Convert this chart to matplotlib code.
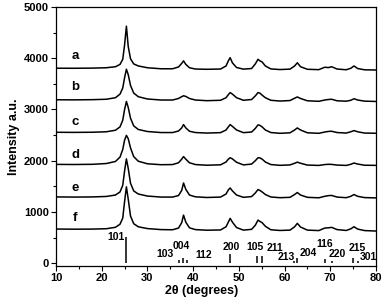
import matplotlib
matplotlib.use("Agg")
import matplotlib.pyplot as plt
from matplotlib.ticker import MultipleLocator

plt.rcParams['font.family'] = ['Liberation Sans', 'DejaVu Sans']
plt.rcParams['font.weight'] = 'bold'

two_theta = [10, 14, 18, 21, 23, 24, 24.6, 25.0, 25.4, 25.8, 26.3, 27.0, 28.0, 30,
             33, 35.5, 36.8, 37.5, 37.9, 38.4, 39.2, 40.5, 43, 46, 47.2, 47.7, 48.1,
             48.6, 49.5, 51, 52.8, 53.6, 54.2, 54.6, 55.1, 55.8, 57, 59, 61.2, 62.2,
             62.8, 63.5, 65, 67.5, 68.8, 69.6, 70.3, 71.5, 73.5, 74.5, 75.2, 76, 77.5, 80]

pattern_a = [3806, 3805, 3808, 3815, 3835, 3880, 3980, 4260, 4627, 4230, 3990, 3890, 3850, 3815,
             3795, 3795, 3830, 3900, 3950, 3880, 3815, 3790, 3785, 3790, 3850, 3950, 4012,
             3910, 3820, 3788, 3800, 3890, 3980, 3950, 3928, 3850, 3792, 3780, 3788, 3850,
             3912, 3835, 3785, 3778, 3825, 3818, 3835, 3790, 3776, 3805, 3850, 3800, 3775, 3771]
pattern_b = [3190, 3188, 3192, 3200, 3230, 3300, 3420, 3620, 3786, 3680, 3470, 3320, 3250, 3205,
             3185, 3185, 3215, 3250, 3268, 3255, 3215, 3185, 3172, 3180, 3230, 3290, 3330,
             3300, 3230, 3180, 3195, 3265, 3330, 3320, 3280, 3230, 3180, 3165, 3175, 3220,
             3245, 3215, 3170, 3160, 3185, 3195, 3200, 3170, 3162, 3180, 3210, 3185, 3163, 3157]
pattern_c = [2555, 2553, 2556, 2565, 2595, 2660, 2790, 3000, 3157, 3040, 2830, 2680, 2610, 2570,
             2550, 2550, 2580, 2640, 2705, 2640, 2575, 2550, 2540, 2548, 2600, 2660, 2705,
             2670, 2600, 2548, 2560, 2630, 2700, 2690, 2660, 2600, 2550, 2535, 2545, 2600,
             2640, 2600, 2545, 2535, 2560, 2572, 2575, 2550, 2540, 2565, 2588, 2565, 2540, 2536]
pattern_d = [1928, 1926, 1930, 1945, 1985, 2070, 2220, 2400, 2495, 2430, 2250, 2080, 1990, 1940,
             1922, 1925, 1960, 2030, 2080, 2030, 1960, 1925, 1912, 1920, 1975, 2030, 2058,
             2035, 1970, 1918, 1935, 2000, 2058, 2055, 2030, 1975, 1925, 1910, 1918, 1950,
             1972, 1950, 1915, 1908, 1925, 1930, 1928, 1915, 1908, 1930, 1955, 1935, 1912, 1909]
pattern_e = [1293, 1290, 1293, 1302, 1330, 1390, 1520, 1800, 2035, 1850, 1560, 1410, 1350, 1310,
             1290, 1290, 1320, 1420, 1565, 1440, 1330, 1295, 1282, 1290, 1350, 1430, 1468,
             1410, 1330, 1285, 1300, 1370, 1437, 1420, 1390, 1340, 1292, 1278, 1285, 1340,
             1379, 1330, 1285, 1276, 1305, 1318, 1322, 1290, 1278, 1305, 1340, 1305, 1280, 1274]
pattern_f = [666, 663, 665, 672, 700, 760, 880, 1200, 1490, 1250, 920, 770, 710, 675,
             655, 652, 685, 790, 938, 800, 690, 655, 643, 648, 710, 800, 874,
             800, 695, 645, 660, 740, 841, 815, 790, 720, 652, 638, 645, 710,
             777, 705, 645, 636, 685, 690, 699, 655, 638, 670, 711, 665, 636, 627]

patterns = [pattern_a, pattern_b, pattern_c, pattern_d, pattern_e, pattern_f]
curve_names = ['a', 'b', 'c', 'd', 'e', 'f']
name_x = [14.2, 14.2, 14.2, 14.2, 14.2, 14.2]
name_y = [4045, 3430, 2750, 2103, 1468, 874]

# anatase reference lines
ref_pos = [25.3, 36.95, 37.8, 38.57, 48.05, 53.89, 55.06, 62.12, 62.69, 68.76, 70.31, 75.03, 76.02]
ref_height = [505, 55, 110, 55, 175, 130, 130, 45, 95, 75, 45, 110, 45]
ref_hkl = ['101', '103', '004', '112', '200', '105', '211', '213', '204', '116', '220', '215', '301']
hkl_x = [23.2, 33.8, 37.5, 42.2, 48.4, 53.5, 57.9, 60.3, 65.1, 68.8, 71.6, 75.8, 78.3]
hkl_y = [505, 180, 336, 161, 322, 322, 303, 117, 194, 369, 180, 291, 117]

fig = plt.figure(figsize=(3.85, 3.07), dpi=100)
ax = fig.add_axes([0.1455, 0.1345, 0.831, 0.8425])

for y, name, nx, ny in zip(patterns, curve_names, name_x, name_y):
    ax.plot(two_theta, y, color='black', lw=1.1)
    ax.text(nx, ny, name, fontsize=9.5, fontweight='bold', ha='center', va='center')

ax.vlines(ref_pos, 0, ref_height, color='black', lw=1.1)
for lab, tx, ty in zip(ref_hkl, hkl_x, hkl_y):
    ax.text(tx, ty, lab, fontsize=7.5, fontweight='bold', ha='center', va='center')

ax.set_xlim(10, 80)
ax.set_ylim(-50, 5000)
ax.xaxis.set_major_locator(MultipleLocator(10))
ax.xaxis.set_minor_locator(MultipleLocator(5))
ax.yaxis.set_major_locator(MultipleLocator(1000))
ax.yaxis.set_minor_locator(MultipleLocator(500))
ax.tick_params(which='major', direction='out', length=3.5, width=0.8, labelsize=8, pad=1.5)
ax.tick_params(which='minor', direction='out', length=2, width=0.8)
for lab in ax.get_xticklabels() + ax.get_yticklabels():
    lab.set_fontweight('bold')
for s in ax.spines.values():
    s.set_linewidth(0.9)

ax.set_xlabel('2\u03b8 (degrees)', fontsize=9, fontweight='bold', labelpad=3)
ax.xaxis.set_label_coords(0.456, -0.075)
ax.set_ylabel('Intensity a.u.', fontsize=9, fontweight='bold', labelpad=3)

fig.savefig('out.png', dpi=100)
